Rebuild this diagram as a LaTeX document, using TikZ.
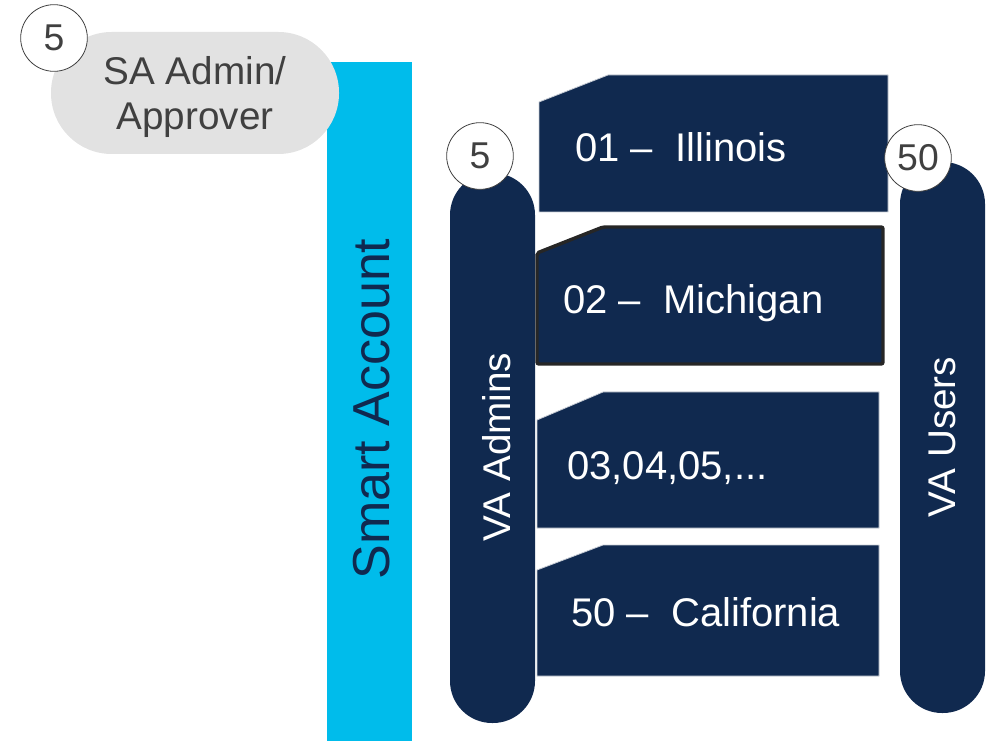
\documentclass[tikz,border=0pt]{standalone}
\usepackage{fontspec}
\setmainfont{Liberation Sans}
\definecolor{navy}{HTML}{10294F}
\definecolor{skycyan}{HTML}{00BCEB}
\definecolor{pillgrey}{HTML}{E2E2E2}
\definecolor{txtgrey}{HTML}{404040}
\definecolor{edgegrey}{HTML}{C9CED6}
\definecolor{darkedge}{HTML}{262626}
\begin{document}
\begin{tikzpicture}[x=0.75pt,y=-0.75pt,
  folder/.style={fill=navy,draw=edgegrey,line width=0.6pt},
  folderhi/.style={fill=navy,draw=darkedge,line width=2.6pt,rounded corners=1.5pt},
  foldertxt/.style={text=white,font=\fontsize{30}{36}\selectfont,anchor=base west,inner sep=0pt},
  numcirc/.style={circle,draw=txtgrey,line width=0.6pt,fill=white,minimum size=50pt,inner sep=0pt,text=txtgrey,font=\fontsize{28}{32}\selectfont},
  vtxt/.style={rotate=90,inner sep=0pt,font=\fontsize{29}{34}\selectfont}]
\useasboundingbox (0,0) rectangle (992,741);
% smart account bar
\fill[skycyan] (327,62) rectangle (412,741);
\node[vtxt,text=navy,font=\fontsize{39}{44}\selectfont] (sa) at (372,409) {Smart Account};
% SA admin pill
\fill[pillgrey,rounded corners=45.5pt] (51,32) rectangle (339,154);
\node[anchor=base,inner sep=0pt,text=txtgrey,font=\fontsize{29}{34}\selectfont] (sa1) at (195,85) {SA Admin/};
\node[anchor=base,inner sep=0pt,text=txtgrey,font=\fontsize{29}{34}\selectfont] (sa2) at (195,130) {Approver};
\node[numcirc] (n1) at (54,38) {5};
% VA admins pill
\fill[navy,rounded corners=31.5pt] (450,173) rectangle (535,723);
\node[vtxt,text=white] (vaa) at (497,447) {VA Admins};
% VA users pill
\fill[navy,rounded corners=31.5pt] (900,162) rectangle (985,713);
\node[vtxt,text=white] (vau) at (942,437) {VA Users};
% folders
\path[folder] (608,75) -- (888,75) -- (888,212) -- (539,212) -- (539,102) -- cycle;
\node[foldertxt] (f1) at (575,162) {01 – \ Illinois};
\path[folderhi] (603,227) -- (883,227) -- (883,364) -- (537,364) -- (537,253) -- cycle;
\node[foldertxt] (f2) at (563,314) {02 – \ Michigan};
\path[folder] (603,392) -- (879,392) -- (879,528) -- (537,528) -- (537,420) -- cycle;
\node[foldertxt] (f3) at (567,479) {03,04,05,...};
\path[folder] (603,545) -- (879,545) -- (879,676) -- (537,676) -- (537,570) -- cycle;
\node[foldertxt] (f4) at (571,626) {50 – \ California};
% count circles
\node[numcirc] (n2) at (480,156) {5};
\node[numcirc] (n3) at (918,158) {50};
\end{tikzpicture}
\end{document}
